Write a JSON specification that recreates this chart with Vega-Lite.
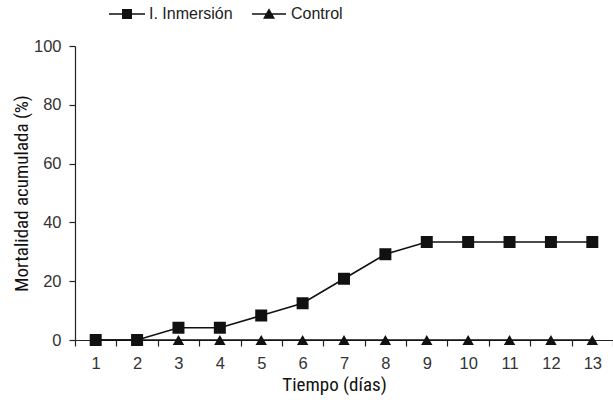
{
  "$schema": "https://vega.github.io/schema/vega-lite/v6.json",
  "width": 538,
  "height": 294,
  "autosize": {"type": "none"},
  "padding": {"left": 75, "top": 46, "right": 0, "bottom": 60},
  "background": "white",
  "config": {
    "view": {"stroke": null},
    "font": "Liberation Sans",
    "axis": {"grid": false, "domainColor": "#222", "tickColor": "#222", "labelColor": "#333", "labelFontSize": 16.5, "labelFont": "Liberation Sans", "titleFont": "Roboto Condensed", "titleFontSize": 19, "titleFontWeight": "normal", "titleColor": "#111", "domainWidth": 1.2, "tickWidth": 1.2}
  },
  "data": {
    "values": [
      {"dia": 1, "serie": "I. Inmersión", "mort": 0},
      {"dia": 2, "serie": "I. Inmersión", "mort": 0},
      {"dia": 3, "serie": "I. Inmersión", "mort": 4.17},
      {"dia": 4, "serie": "I. Inmersión", "mort": 4.17},
      {"dia": 5, "serie": "I. Inmersión", "mort": 8.33},
      {"dia": 6, "serie": "I. Inmersión", "mort": 12.5},
      {"dia": 7, "serie": "I. Inmersión", "mort": 20.83},
      {"dia": 8, "serie": "I. Inmersión", "mort": 29.17},
      {"dia": 9, "serie": "I. Inmersión", "mort": 33.33},
      {"dia": 10, "serie": "I. Inmersión", "mort": 33.33},
      {"dia": 11, "serie": "I. Inmersión", "mort": 33.33},
      {"dia": 12, "serie": "I. Inmersión", "mort": 33.33},
      {"dia": 13, "serie": "I. Inmersión", "mort": 33.33},
      {"dia": 1, "serie": "Control", "mort": 0},
      {"dia": 2, "serie": "Control", "mort": 0},
      {"dia": 3, "serie": "Control", "mort": 0},
      {"dia": 4, "serie": "Control", "mort": 0},
      {"dia": 5, "serie": "Control", "mort": 0},
      {"dia": 6, "serie": "Control", "mort": 0},
      {"dia": 7, "serie": "Control", "mort": 0},
      {"dia": 8, "serie": "Control", "mort": 0},
      {"dia": 9, "serie": "Control", "mort": 0},
      {"dia": 10, "serie": "Control", "mort": 0},
      {"dia": 11, "serie": "Control", "mort": 0},
      {"dia": 12, "serie": "Control", "mort": 0},
      {"dia": 13, "serie": "Control", "mort": 0}
    ]
  },
  "resolve": {"scale": {"shape": "independent"}},
  "layer": [
    {
      "mark": {"type": "line", "color": "#111", "strokeWidth": 1.6},
      "encoding": {
        "x": {"field": "dia", "type": "ordinal", "scale": {"type": "band", "paddingInner": 0, "paddingOuter": 0},
              "axis": {"tickBand": "extent", "labelAngle": 0, "tickSize": 6, "labelPadding": 9, "title": "Tiempo (días)", "titlePadding": 4, "titleX": 259}},
        "y": {"field": "mort", "type": "quantitative", "scale": {"domain": [0, 100], "nice": false},
              "axis": {"values": [0,20,40,60,80,100], "tickSize": 6, "labelPadding": 8, "title": "Mortalidad acumulada (%)", "titlePadding": 2}},
        "detail": {"field": "serie"}
      }
    },
    {
      "transform": [{"filter": "datum.serie == 'Control'"}],
      "mark": {"type": "point", "shape": "triangle-up", "filled": true, "color": "#111", "opacity": 1, "size": 130},
      "encoding": {
        "x": {"field": "dia", "type": "ordinal"},
        "y": {"field": "mort", "type": "quantitative"}
      }
    },
    {
      "transform": [{"filter": "datum.serie == 'I. Inmersión'"}],
      "mark": {"type": "point", "shape": "square", "filled": true, "color": "#111", "opacity": 1, "size": 144},
      "encoding": {
        "x": {"field": "dia", "type": "ordinal"},
        "y": {"field": "mort", "type": "quantitative"}
      }
    },
    {
      "transform": [{"filter": "false"}],
      "mark": {"type": "point", "filled": true, "color": "#111", "opacity": 1},
      "encoding": {
        "x": {"field": "dia", "type": "ordinal"},
        "y": {"field": "mort", "type": "quantitative"},
        "shape": {"field": "serie", "type": "nominal",
          "scale": {"domain": ["I. Inmersión", "Control"], "range": ["M-3.6,-0.15H3.6V0.15H-3.6ZM-1,-1H1V1H-1Z", "M-3.4,-0.15H3.4V0.15H-3.4ZM0,-1.15L1.2,0.95H-1.2Z"]},
          "legend": {"orient": "none", "legendX": 44, "legendY": -40, "direction": "horizontal", "title": null,
            "symbolSize": 100, "symbolOpacity": 1,
            "labelFontSize": 16, "labelColor": "#222", "labelFont": "Liberation Sans", "labelOffset": 14, "columnPadding": 16,
            "encode": {"symbols": {"update": {"fill": {"value": "#111"}, "stroke": {"value": "transparent"}, "opacity": {"value": 1}}}}}}
      }
    }
  ]
}
